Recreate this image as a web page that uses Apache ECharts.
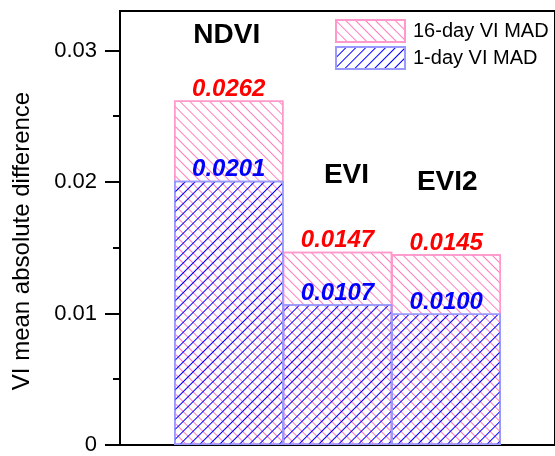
<!DOCTYPE html>
<html><head><meta charset="utf-8">
<script src="https://cdn.jsdelivr.net/npm/echarts@6/dist/echarts.min.js"></script>
<style>html,body{margin:0;padding:0;background:#fff}#c{width:555px;height:456px}</style>
</head><body><div id="c"></div>
<script>
const categories = ['NDVI', 'EVI', 'EVI2'];
const mad16 = [0.0262, 0.0147, 0.0145];
const mad1 = [0.0201, 0.0107, 0.0100];
const seriesNames = ['16-day VI MAD', '1-day VI MAD'];
const yTicks = [0, 0.01, 0.02, 0.03];
const yMinorTicks = [0.005, 0.015, 0.025];

// layout for the category name labels (center-to-center offset above value, horizontal shift)
const nameLift = [54, 65, 61];
const nameShift = [-2, 9, 1];

const FONT = '"Liberation Sans", Arial, sans-serif';
const axisCats = [''].concat(categories, ['']);
const pad = arr => ['-'].concat(arr, ['-']);

const pinkDecal = {symbol: 'rect', symbolSize: 1, dashArrayX: [1, 0], dashArrayY: [1, 6], rotation: Math.PI / 4, color: '#ff7fbf'};
const blueDecal = {symbol: 'rect', symbolSize: 1, dashArrayX: [1, 0], dashArrayY: [1, 6], rotation: -Math.PI / 4, color: '#0000ff'};

const pinkData = pad(mad16).map((v, i) => {
  if (v === '-') return v;
  const k = i - 1;
  return {
    value: v,
    label: {rich: {n: {lineHeight: nameLift[k] * 2 - 24, padding: nameShift[k] > 0 ? [0, 0, 0, nameShift[k] * 2] : [0, -nameShift[k] * 2, 0, 0]}}}
  };
});

const chart = echarts.init(document.getElementById('c'), null, {renderer: 'canvas'});
chart.setOption({
  animation: false,
  textStyle: {fontFamily: FONT},
  grid: {left: 120, top: 11, width: 438, height: 439, show: true, borderColor: '#000', borderWidth: 2, backgroundColor: 'transparent'},
  legend: {
    data: seriesNames, orient: 'vertical', left: 335, top: 19, padding: 0,
    itemWidth: 69, itemHeight: 22, itemGap: 3, icon: 'rect',
    textStyle: {fontSize: 20, color: '#000', fontFamily: FONT, padding: [0, 0, 0, 3]}
  },
  xAxis: {
    type: 'category', data: axisCats, boundaryGap: false,
    axisLine: {lineStyle: {color: '#000', width: 2}},
    axisTick: {show: false}, axisLabel: {show: false}, splitLine: {show: false}
  },
  yAxis: [{
    type: 'value', min: 0, max: 0.033, interval: 0.01,
    name: 'VI mean absolute difference', nameLocation: 'middle', nameGap: 86,
    nameTextStyle: {fontSize: 24, color: '#000', fontFamily: FONT, padding: [0, 26, 0, 0]},
    axisLine: {show: true, lineStyle: {color: '#000', width: 2}},
    axisTick: {show: true, inside: false, length: 15, customValues: yTicks, lineStyle: {color: '#000', width: 2}},
    axisLabel: {customValues: yTicks, fontSize: 22, color: '#000', margin: 23, fontFamily: FONT,
      formatter: v => v === 0 ? '0' : v.toFixed(2)},
    splitLine: {show: false}
  }, {
    type: 'value', min: 0, max: 0.033, position: 'left', offset: 0,
    axisLine: {show: false},
    axisTick: {show: true, inside: false, length: 7, customValues: yMinorTicks, lineStyle: {color: '#000', width: 2}},
    axisLabel: {show: false}, splitLine: {show: false}
  }],
  series: [{
    name: seriesNames[0], type: 'bar', data: pinkData, barWidth: 109.5, barGap: '-100%',
    itemStyle: {color: 'rgba(255,255,255,0)', borderColor: '#ff99cc', borderWidth: 1.5, decal: pinkDecal},
    label: {
      show: true, position: 'top', distance: -1,
      formatter: p => '{n|' + categories[p.dataIndex - 1] + '}\n{v|' + p.value.toFixed(4) + '}',
      rich: {
        n: {fontSize: 28, fontWeight: 'bold', color: '#000', fontFamily: FONT},
        v: {fontSize: 24, fontWeight: 'bold', fontStyle: 'italic', color: '#ff0000', fontFamily: FONT, lineHeight: 24}
      }
    }
  }, {
    name: seriesNames[1], type: 'bar', data: pad(mad1), barWidth: 109.5, barGap: '-100%',
    itemStyle: {color: 'rgba(255,255,255,0)', borderColor: '#9999ff', borderWidth: 1.5, decal: blueDecal},
    label: {
      show: true, position: 'top', distance: -1, fontSize: 24, lineHeight: 24, fontWeight: 'bold', fontStyle: 'italic',
      color: '#0000ff', fontFamily: FONT, formatter: p => p.value.toFixed(4)
    }
  }]
});
</script></body></html>
